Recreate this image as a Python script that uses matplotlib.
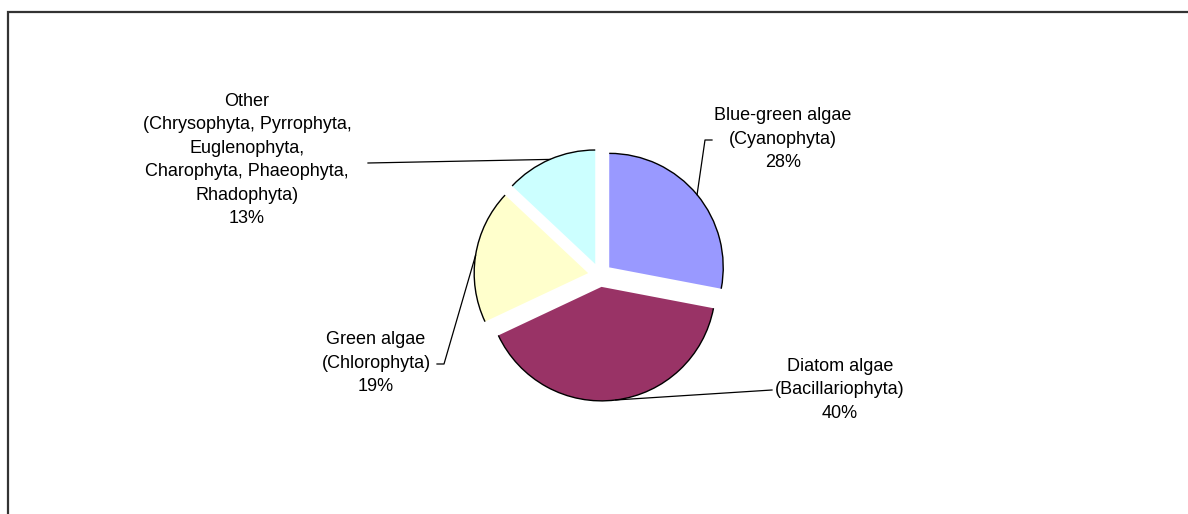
import numpy as np
import matplotlib.pyplot as plt
from matplotlib.patches import Arc, Rectangle

# Share of phytoplankton groups, clockwise from 12 o'clock
groups = [
    "Blue-green algae\n(Cyanophyta)",
    "Diatom algae\n(Bacillariophyta)",
    "Green algae\n(Chlorophyta)",
    "Other\n(Chrysophyta, Pyrrophyta,\nEuglenophyta,\nCharophyta, Phaeophyta,\nRhadophyta)",
]
shares = [28, 40, 19, 13]
colours = ["#9999FF", "#993366", "#FFFFCC", "#CCFFFF"]

W, H = 1188, 514
plt.rcParams["font.family"] = ["Liberation Sans", "DejaVu Sans"]

fig = plt.figure(figsize=(W / 100, H / 100), dpi=100)
ax = fig.add_axes([0, 0, 1, 1])

radius = 114
# pie() adds explode directly to the centre, so scale it by the radius
wedges, _ = ax.pie(
    shares,
    colors=colours,
    startangle=90,
    counterclock=False,
    explode=[0.105 * radius] * len(shares),
    radius=radius,
    center=(600, H - 275),
    wedgeprops=dict(linewidth=0),
    frame=True,
)
ax.set_xlim(0, W)
ax.set_ylim(0, H)
ax.set_aspect("equal")
ax.axis("off")

# outline only the outer arc of each slice
for w in wedges:
    ax.add_patch(Arc(w.center, 2 * w.r, 2 * w.r, theta1=w.theta1, theta2=w.theta2,
                     color="black", lw=1.0))

# label block centre and leader path (pixels, y from top) for each slice
label_pos = [(783, 139), (840, 390), (376, 363), (247, 160)]
leader_pts = [
    [(705, 140), (712, 140)],
    [(772, 390)],
    [(444, 364), (437, 364)],
    [(368, 163)],
]

for w, name, v, (tx, ty), pts in zip(wedges, groups, shares, label_pos, leader_pts):
    mid = np.deg2rad((w.theta1 + w.theta2) / 2)
    x0 = w.center[0] + w.r * np.cos(mid)
    y0 = w.center[1] + w.r * np.sin(mid)
    xs = [x0] + [p[0] for p in pts]
    ys = [y0] + [H - p[1] for p in pts]
    ax.plot(xs, ys, color="black", lw=0.9)
    ax.text(tx, H - ty, f"{name}\n{v}%", ha="center", va="center",
            multialignment="center", fontsize=13, linespacing=1.5)

# chart area border, running off the right and bottom edges
fig.add_artist(Rectangle((8 / W, -0.1), 1.2, (H - 11.5) / H + 0.1,
                         transform=fig.transFigure, fill=False,
                         lw=1.6, ec="#333333", clip_on=False))

fig.savefig("out.png", dpi=100)
